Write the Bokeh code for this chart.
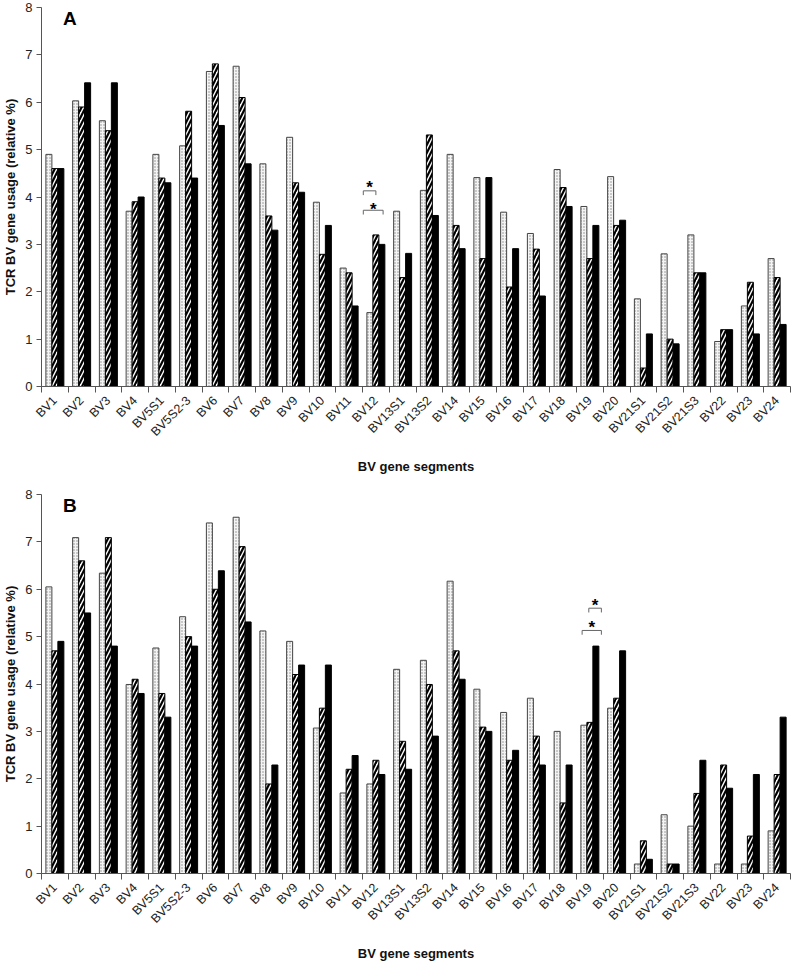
import math
from bokeh.plotting import figure
from bokeh.layouts import column
from bokeh.models import Range1d, FixedTicker, Label
from bokeh.core.properties import value
from bokeh.embed import file_html
from bokeh.resources import INLINE

segments = ["BV1", "BV2", "BV3", "BV4", "BV5S1", "BV5S2-3", "BV6", "BV7", "BV8", "BV9",
            "BV10", "BV11", "BV12", "BV13S1", "BV13S2", "BV14", "BV15", "BV16", "BV17",
            "BV18", "BV19", "BV20", "BV21S1", "BV21S2", "BV21S3", "BV22", "BV23", "BV24"]

# Panel A
a_dotted = [4.9, 6.03, 5.61, 3.7, 4.9, 5.08, 6.65, 6.76, 4.7, 5.26, 3.89, 2.5, 1.56, 3.7,
            4.14, 4.9, 4.41, 3.68, 3.23, 4.58, 3.8, 4.43, 1.85, 2.8, 3.2, 0.95, 1.7, 2.7]
a_hatched = [4.6, 5.9, 5.4, 3.9, 4.4, 5.81, 6.81, 6.1, 3.6, 4.3, 2.79, 2.4, 3.2, 2.3,
             5.31, 3.4, 2.7, 2.1, 2.9, 4.2, 2.7, 3.4, 0.39, 1.0, 2.4, 1.2, 2.2, 2.3]
a_black = [4.6, 6.41, 6.41, 4.0, 4.3, 4.4, 5.51, 4.7, 3.3, 4.1, 3.4, 1.7, 3.0, 2.81,
           3.61, 2.91, 4.41, 2.91, 1.91, 3.8, 3.4, 3.51, 1.11, 0.9, 2.4, 1.2, 1.11, 1.31]

# Panel B
b_dotted = [6.05, 7.09, 6.34, 3.99, 4.76, 5.42, 7.4, 7.52, 5.12, 4.9, 3.07, 1.7, 1.89, 4.31,
            4.5, 6.17, 3.89, 3.4, 3.7, 3.0, 3.13, 3.49, 0.2, 1.24, 1.0, 0.2, 0.2, 0.9]
b_hatched = [4.7, 6.6, 7.09, 4.1, 3.8, 5.0, 6.0, 6.9, 1.89, 4.2, 3.49, 2.2, 2.39, 2.79,
             3.99, 4.7, 3.09, 2.39, 2.9, 1.49, 3.19, 3.7, 0.69, 0.2, 1.69, 2.29, 0.79, 2.09]
b_black = [4.9, 5.5, 4.8, 3.8, 3.3, 4.8, 6.39, 5.31, 2.29, 4.4, 4.4, 2.49, 2.09, 2.2,
           2.9, 4.1, 3.0, 2.6, 2.29, 2.29, 4.8, 4.7, 0.3, 0.2, 2.39, 1.8, 2.09, 3.3]

y_ticks = [0, 1, 2, 3, 4, 5, 6, 7, 8]

# significance brackets: (category, x_start_offset, x_end_offset, y, star_y)
a_brackets = [("BV12", -0.47, 0.0, 4.13, 4.21), ("BV12", -0.47, 0.27, 3.72, 3.74)]
b_brackets = [("BV19", -0.04, 0.43, 5.60, 5.65), ("BV19", -0.29, 0.43, 5.13, 5.19)]

FONT = "Liberation Sans"
BW = 0.224


def make_panel(letter, dotted, hatched, black, brackets, top_border):
    p = figure(frame_width=749, frame_height=379, output_backend="svg", toolbar_location=None,
               x_range=Range1d(-0.5, len(segments) - 0.5), y_range=Range1d(0, 8),
               min_border_left=32, min_border_right=2, min_border_top=top_border,
               min_border_bottom=4)
    p.outline_line_color = None
    p.grid.visible = False
    p.background_fill_color = "white"
    p.border_fill_color = "white"

    xs = list(range(len(segments)))
    p.vbar(x=[i - BW for i in xs], top=dotted, width=BW, bottom=0,
           fill_color="#f4f4f4", line_color="#444444", line_width=1,
           hatch_pattern="dot", hatch_scale=3, hatch_color="#888888", hatch_weight=1)
    p.vbar(x=xs, top=hatched, width=BW, bottom=0,
           fill_color="white", line_color="black", line_width=1,
           hatch_pattern="right_diagonal_line", hatch_scale=8, hatch_color="black",
           hatch_weight=2.2)
    p.vbar(x=[i + BW for i in xs], top=black, width=BW, bottom=0,
           fill_color="black", line_color="black", line_width=1)

    for cat, x0, x1, y, sy in brackets:
        c = segments.index(cat)
        d = 0.09
        p.line(x=[c + x0, c + x0, c + x1, c + x1], y=[y - d, y, y, y - d],
               line_color="#666666", line_width=1)
        p.text(x=[c + (x0 + x1) / 2], y=[sy], text=["*"], text_align="center",
               text_baseline="middle", text_font=value(FONT), text_font_style="bold",
               text_font_size="17px", text_color="black")

    p.add_layout(Label(x=0.3, y=7.98, text=letter, text_font=FONT, text_font_style="bold",
                       text_font_size="19px", text_baseline="top", text_align="left",
                       text_color="black"))

    xa = p.xaxis[0]
    xa.ticker = FixedTicker(ticks=xs, minor_ticks=[i - 0.5 for i in range(len(segments) + 1)])
    xa.major_label_overrides = {i: s for i, s in enumerate(segments)}
    xa.major_label_orientation = math.pi / 4
    xa.major_tick_out = 0
    xa.major_tick_in = 0
    xa.minor_tick_out = 6
    xa.minor_tick_in = 0
    xa.minor_tick_line_color = "#555555"
    xa.axis_line_color = "#555555"
    xa.major_label_text_font = FONT
    xa.major_label_text_font_size = "12.5px"
    xa.major_label_text_color = "#222222"
    xa.major_label_standoff = 6
    xa.axis_label = "BV gene segments"
    xa.axis_label_text_font = FONT
    xa.axis_label_text_font_style = "bold"
    xa.axis_label_text_font_size = "13px"
    xa.axis_label_text_color = "#111111"
    xa.axis_label_standoff = 12

    ya = p.yaxis[0]
    ya.ticker = FixedTicker(ticks=y_ticks)
    ya.major_tick_out = 5
    ya.major_tick_in = 0
    ya.minor_tick_out = 0
    ya.minor_tick_in = 0
    ya.axis_line_color = "#555555"
    ya.major_tick_line_color = "#555555"
    ya.major_label_text_font = FONT
    ya.major_label_text_font_size = "13px"
    ya.major_label_text_color = "#222222"
    ya.major_label_standoff = 4
    ya.axis_label = "TCR BV gene usage (relative %)"
    ya.axis_label_text_font = FONT
    ya.axis_label_text_font_style = "bold"
    ya.axis_label_text_font_size = "13px"
    ya.axis_label_text_color = "#111111"
    ya.axis_label_standoff = 4
    return p


pA = make_panel("A", a_dotted, a_hatched, a_black, a_brackets, 7)
pB = make_panel("B", b_dotted, b_hatched, b_black, b_brackets, 18)

layout = column(pA, pB, spacing=0)
open("out.html", "w").write(file_html(layout, INLINE))
